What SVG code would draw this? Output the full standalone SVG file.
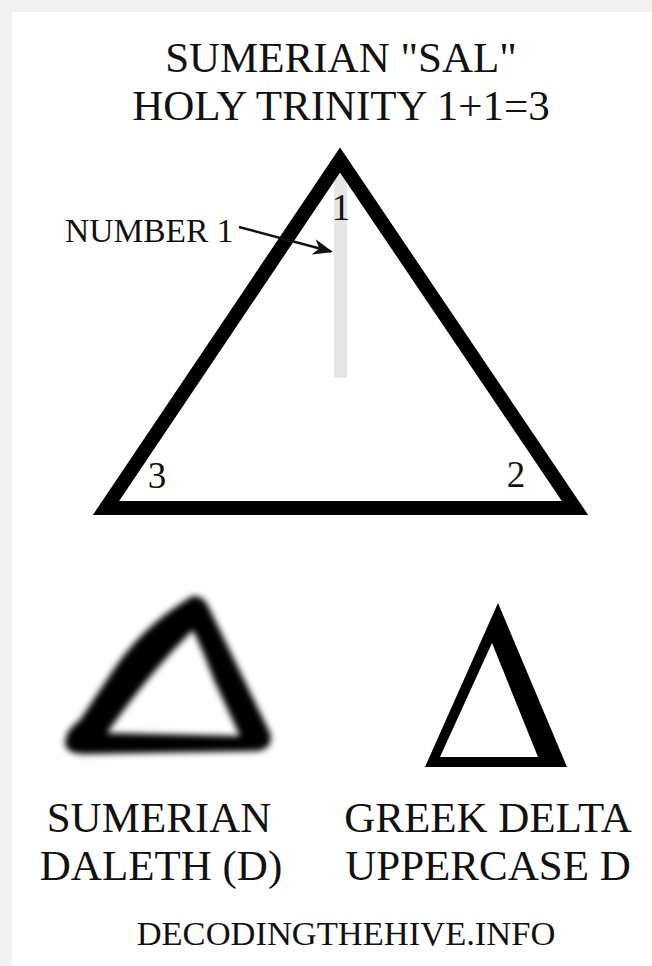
<svg xmlns="http://www.w3.org/2000/svg" width="652" height="966" viewBox="0 0 652 966">
<defs>
<style>
text{font-family:"Liberation Serif","Times New Roman",serif;fill:#111}
.t43{font-size:43px}
.num{font-size:37px}
</style>
<marker id="ah" viewBox="0 0 10 8" refX="9" refY="4" markerWidth="8" markerHeight="6.4" markerUnits="strokeWidth" orient="auto">
<path d="M0,0 L10,4 L0,8 L3,4 Z" fill="#111"/>
</marker>
<filter id="blur" x="-20%" y="-20%" width="140%" height="140%">
<feGaussianBlur stdDeviation="3"/>
</filter>
</defs>
<rect width="652" height="966" fill="#f1f1f1"/>
<rect x="12" y="12" width="640" height="954" fill="#ffffff"/>
<g id="title">
<text class="t43" x="341" y="72" text-anchor="middle">SUMERIAN "SAL"</text>
<text class="t43" x="341" y="120" text-anchor="middle">HOLY TRINITY 1+1=3</text>
</g>
<g id="number1-bar">
<rect x="334" y="172" width="13" height="206" fill="#e6e6e6"/>
</g>
<g id="trinity-triangle">
<path d="M340,160 L575,508 L106,508 Z" fill="none" stroke="#000" stroke-width="14" stroke-linejoin="miter"/>
<text class="num" x="341" y="220" text-anchor="middle">1</text>
<text class="num" x="516" y="487" text-anchor="middle">2</text>
<text class="num" x="157" y="488" text-anchor="middle">3</text>
</g>
<g id="label-number1">
<text x="65" y="242" style="font-size:33.5px">NUMBER 1</text>
</g>
<g id="connectors">
<line x1="239" y1="227" x2="331" y2="251.5" stroke="#111" stroke-width="2.5" marker-end="url(#ah)"/>
</g>
<g id="sumerian-daleth">
<path filter="url(#blur)" fill="#000" fill-rule="evenodd" d="M190,597 C200,594 206,600 210,610 L270,733 Q274,748 258,751 L85,754 Q65,754 65,742 Q66,730 80,720 L110,675 Q140,628 188,599 Z M193,630 Q205,655 214,680 L240,736 L107,733 Q150,672 193,630 Z"/>
</g>
<g id="greek-delta">
<path fill="#000" fill-rule="evenodd" d="M498,603 L567,767 L425,767 Z M492,643 L440,757 L538,757 Z"/>
</g>
<g id="captions">
<text class="t43" x="159" y="832" text-anchor="middle">SUMERIAN</text>
<text class="t43" x="161" y="880" text-anchor="middle">DALETH (D)</text>
<text class="t43" x="488" y="832" text-anchor="middle">GREEK DELTA</text>
<text class="t43" x="488" y="880" text-anchor="middle">UPPERCASE D</text>
<text x="346" y="945" text-anchor="middle" style="font-size:34.5px">DECODINGTHEHIVE.INFO</text>
</g>
</svg>
